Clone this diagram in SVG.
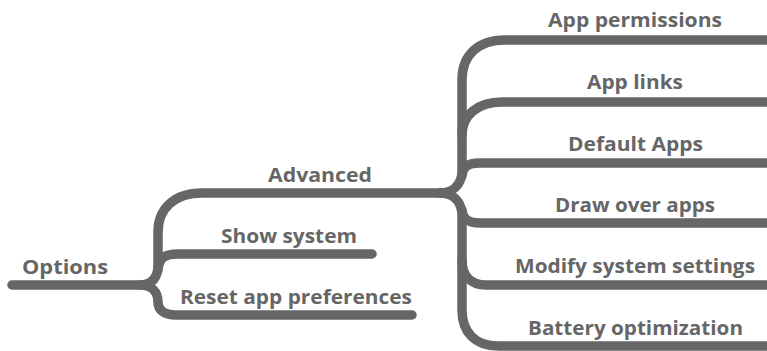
<svg xmlns="http://www.w3.org/2000/svg" width="767" height="351" viewBox="0 0 767 351">
<style>
.c{fill:none;stroke:#666;stroke-width:9.5;stroke-linecap:round;stroke-linejoin:round}
.t{font-family:"Open Sans","Liberation Sans",sans-serif;font-weight:bold;font-size:20px;fill:#666;text-anchor:middle}
</style>
<rect width="767" height="351" fill="#fff"/>
<g id="connectors">
<path class="c" d="M12,285 H140 C152,285 158,278 158,265 V232 C158,208 175,193 202,193 H440"/>
<path class="c" d="M158,270 C159,258 164,254 178,254 H372"/>
<path class="c" d="M140,285 C152,285 158,292 158,302 C158,310 164,315 176,315 H412"/>
<path class="c" d="M440,193 C452,193 460,186 462,174 V80 C462,55 478,40 505,40 H772"/>
<path class="c" d="M462,135 C462,115 478,102 502,102 H772"/>
<path class="c" d="M462,176 C462,167 468,163 480,163 H772"/>
<path class="c" d="M440,193 C452,193 460,200 462,212 V310 C462,332 475,346 498,346 H772"/>
<path class="c" d="M462,210 C463,219 468,223 480,223 H772"/>
<path class="c" d="M462,260 C462,275 470,285 486,285 H772"/>
</g>
<g id="n-options"><text class="t" x="65" y="274" textLength="86" lengthAdjust="spacingAndGlyphs">Options</text></g>
<g id="n-advanced"><text class="t" x="320" y="182" textLength="104" lengthAdjust="spacingAndGlyphs">Advanced</text></g>
<g id="n-show"><text class="t" x="289" y="243" textLength="136" lengthAdjust="spacingAndGlyphs">Show system</text></g>
<g id="n-reset"><text class="t" x="296" y="304" textLength="232" lengthAdjust="spacingAndGlyphs">Reset app preferences</text></g>
<g id="n-perm"><text class="t" x="635" y="27" textLength="174" lengthAdjust="spacingAndGlyphs">App permissions</text></g>
<g id="n-links"><text class="t" x="635" y="89" textLength="96" lengthAdjust="spacingAndGlyphs">App links</text></g>
<g id="n-default"><text class="t" x="635.5" y="151" textLength="135" lengthAdjust="spacingAndGlyphs">Default Apps</text></g>
<g id="n-draw"><text class="t" x="635" y="212" textLength="160" lengthAdjust="spacingAndGlyphs">Draw over apps</text></g>
<g id="n-modify"><text class="t" x="635" y="273" textLength="240" lengthAdjust="spacingAndGlyphs">Modify system settings</text></g>
<g id="n-battery"><text class="t" x="635.5" y="335" textLength="215" lengthAdjust="spacingAndGlyphs">Battery optimization</text></g>
</svg>
